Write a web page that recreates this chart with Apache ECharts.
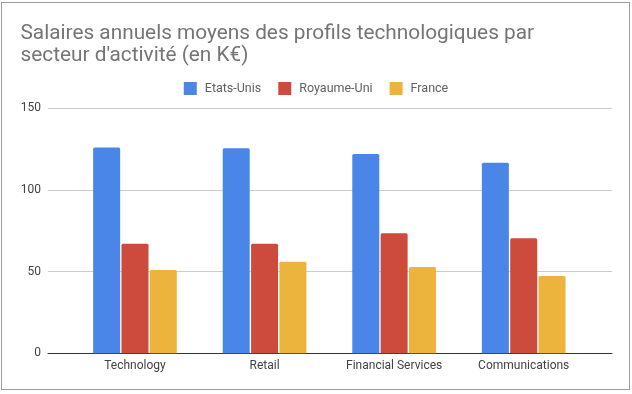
<!DOCTYPE html>
<html><head><meta charset="utf-8">
<script src="https://cdn.jsdelivr.net/npm/echarts@6/dist/echarts.min.js"></script>
<style>html,body{margin:0;padding:0;background:#fff}#c{width:632px;height:394px;position:relative}
#frame{position:absolute;left:1px;top:2px;width:629px;height:388px;border:1px solid #9e9e9e;box-sizing:border-box;pointer-events:none}</style>
</head><body><div id="c"></div><div id="frame"></div>
<script>
var categories = ['Technology', 'Retail', 'Financial Services', 'Communications'];
var seriesNames = ['Etats-Unis', 'Royaume-Uni', 'France'];
var etatsUnis = [126, 125.5, 122, 116.7];
var royaumeUni = [67, 67, 73.5, 70.4];
var france = [51, 56, 52.8, 47.3];
var yTicks = [0, 50, 100, 150];
var colors = ['#4a86e8', '#cd4b3c', '#ecb43c'];

var chart = echarts.init(document.getElementById('c'));
var font = 'Roboto, sans-serif';
var barStyle = {barWidth: 27, barGap: '5%', barCategoryGap: '35%'};
function mk(name, data, i) {
  return Object.assign({
    type: 'bar', name: name, data: data, xAxisIndex: 1, yAxisIndex: 1,
    itemStyle: {color: colors[i], borderRadius: [1.5, 1.5, 0, 0]}
  }, barStyle);
}
chart.setOption({
  animation: false,
  color: colors,
  title: {
    text: 'Salaires annuels moyens des profils technologiques par\nsecteur d\'activité (en K€)',
    left: 15.5, top: 18,
    textStyle: {fontFamily: font, fontSize: 20.8, fontWeight: 'normal', color: '#757575', lineHeight: 22}
  },
  legend: {
    data: seriesNames, top: 77, left: 'center', icon: 'rect',
    itemWidth: 13, itemHeight: 13, itemGap: 17,
    textStyle: {fontFamily: font, fontSize: 12.5, color: '#616161', padding: [0, 0, 0, 3]}
  },
  grid: [
    {left: 48, right: 20, top: 108.3, bottom: 40.7},
    {left: 70.2, right: 43.5, top: 108.3, bottom: 40.7}
  ],
  xAxis: [
    {type: 'value', gridIndex: 0, min: 0, max: 1, axisLabel: {show: false}, axisTick: {show: false},
     splitLine: {show: false}, axisLine: {show: true, lineStyle: {color: '#333', width: 1}}},
    {type: 'category', gridIndex: 1, data: categories, axisLine: {show: false}, axisTick: {show: false},
     axisLabel: {fontFamily: font, fontSize: 12, color: '#424242', margin: 7}}
  ],
  yAxis: [
    {type: 'value', gridIndex: 0, min: yTicks[0], max: yTicks[yTicks.length - 1], interval: 50,
     axisLine: {show: false}, axisTick: {show: false},
     axisLabel: {fontFamily: font, fontSize: 12, color: '#424242', margin: 7},
     splitLine: {lineStyle: {color: '#cccccc'}}},
    {type: 'value', gridIndex: 1, min: 0, max: 150, show: false, splitLine: {show: false}}
  ],
  series: [
    {type: 'scatter', xAxisIndex: 0, yAxisIndex: 0, data: [], silent: true},
    mk(seriesNames[0], etatsUnis, 0),
    mk(seriesNames[1], royaumeUni, 1),
    mk(seriesNames[2], france, 2)
  ]
});
</script></body></html>
